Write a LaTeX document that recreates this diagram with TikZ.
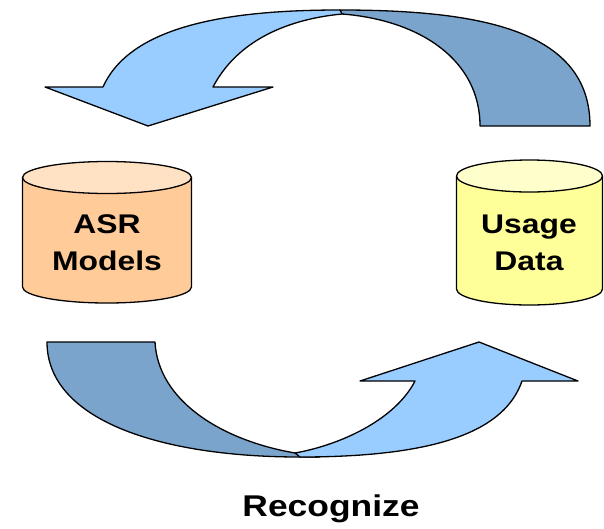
\documentclass[tikz,border=0pt]{standalone}
\usepackage{fontspec}
\setmainfont{Liberation Sans}
\definecolor{lightarrow}{RGB}{153,204,255}
\definecolor{darkarrow}{RGB}{122,164,204}
\definecolor{asrside}{RGB}{255,204,153}
\definecolor{asrtop}{RGB}{255,225,196}
\definecolor{usageside}{RGB}{255,255,153}
\definecolor{usagetop}{RGB}{255,255,204}
\newcommand\stretchtxt[1]{\scalebox{1.18}[1]{#1}}
\begin{document}
\begin{tikzpicture}[x=1pt,y=-1pt,line join=round,
	outline/.style={draw=black,line width=1.3pt},
	back/.style={outline,fill=darkarrow},
	front/.style={outline,fill=lightarrow},
	every node/.style={align=center,font=\bfseries\fontsize{27}{37}\selectfont}]
	\useasboundingbox (0,0) rectangle (604,528);
	% upper arrow, back part first
	\draw[back] (340,10) .. controls (480,10) and (590,30) .. (590,126) -- (480,126)
		.. controls (480,60) and (420,20) .. (342,14) -- cycle;
	\draw[front] (45,87) -- (103,87) .. controls (132,22) and (240,10) .. (340,10) -- (342,14)
		.. controls (280,20) and (235,45) .. (213,87) -- (273,87) -- (148,126) -- cycle;
	% lower arrow
	\draw[back] (47,342) -- (155,342) .. controls (158,400) and (220,440) .. (295,453)
		-- (320,457) -- (300,457) .. controls (160,457) and (47,420) .. (47,342) -- cycle;
	\draw[front] (295,453) .. controls (340,445) and (395,420) .. (415,381) -- (360,381)
		-- (479,342) -- (578,381) -- (522,381) .. controls (505,430) and (440,457) .. (300,457) -- cycle;
	% stores
	\draw[outline,fill=asrside] (22.5,177.5) -- (22.5,287) arc (180:0:84.5 and 16) -- (191.5,177.5);
	\draw[outline,fill=asrtop] (107,177.5) ellipse (84.5 and 16);
	\draw[outline,fill=usageside] (456.5,176) -- (456.5,289) arc (180:0:73 and 16) -- (602.5,176);
	\draw[outline,fill=usagetop] (529.5,176) ellipse (73 and 16);
	\node (asr) at (107,242.5) {\stretchtxt{ASR}\\\stretchtxt{Models}};
	\node (usage) at (529,243) {\stretchtxt{Usage}\\\stretchtxt{Data}};
	\node[font=\bfseries\fontsize{30}{36}\selectfont] (recognize) at (331,509) {\stretchtxt{Recognize}};
\end{tikzpicture}
\end{document}
